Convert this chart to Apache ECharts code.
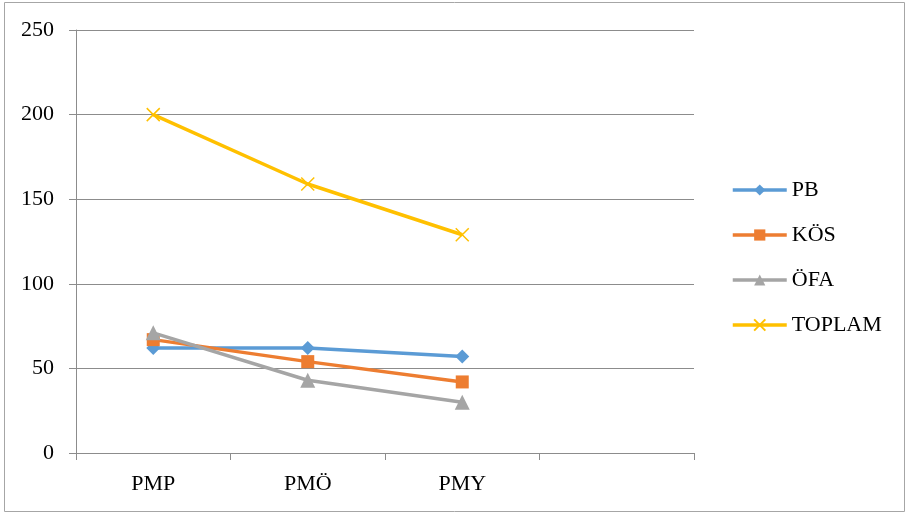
<!DOCTYPE html>
<html><head><meta charset="utf-8">
<script src="https://cdn.jsdelivr.net/npm/echarts@6/dist/echarts.min.js"></script>
<style>html,body{margin:0;padding:0;background:#fff}#c{width:908px;height:514px}</style>
</head><body><div id="c"></div>
<script>
const categories = ['PMP', 'PMÖ', 'PMY', ''];
const seriesNames = ['PB', 'KÖS', 'ÖFA', 'TOPLAM'];
const pb = [62, 62, 57];
const kos = [67, 54, 42];
const ofa = [71, 43, 30];
const toplam = [200, 159, 129];
const yTicks = [0, 50, 100, 150, 200, 250];

const font = '"Liberation Serif", "DejaVu Serif", serif';
const colors = ['#5B9BD5', '#ED7D31', '#A5A5A5', '#FFC000'];
const symbols = ['diamond', 'rect', 'triangle', 'path://M0,0L10,10M10,0L0,10'];
const sizes = [14, 13, 15, 13];
const data = [pb, kos, ofa, toplam];

const chart = echarts.init(document.getElementById('c'), null, {renderer: 'canvas'});
chart.setOption({
  animation: false,
  backgroundColor: '#fff',
  graphic: [{type: 'rect', shape: {x: 4.5, y: 2.5, width: 900, height: 509}, style: {fill: 'none', stroke: '#a6a6a6', lineWidth: 1}, silent: true, z: -1}],
  grid: {left: 76, right: 214, top: 30, bottom: 61, containLabel: false},
  legend: {
    orient: 'vertical', left: 726, top: 174, itemGap: 23, itemWidth: 54, itemHeight: 14,
    lineStyle: {width: 3.5},
    textStyle: {fontFamily: font, fontSize: 22, lineHeight: 22, color: '#000'},
    data: seriesNames
  },
  xAxis: {
    type: 'category', data: categories, boundaryGap: true,
    axisLine: {lineStyle: {color: '#8c8c8c', width: 1}},
    axisTick: {show: true, length: 7, lineStyle: {color: '#8c8c8c'}, alignWithLabel: false},
    axisLabel: {fontFamily: font, fontSize: 22, color: '#000', margin: 20},
    splitLine: {show: false}
  },
  yAxis: {
    type: 'value', min: yTicks[0], max: yTicks[yTicks.length - 1], interval: 50,
    axisLine: {show: true, lineStyle: {color: '#8c8c8c', width: 1}},
    axisTick: {show: true, length: 7, lineStyle: {color: '#8c8c8c'}},
    axisLabel: {fontFamily: font, fontSize: 22, color: '#000', margin: 22},
    splitLine: {show: true, lineStyle: {color: '#8c8c8c', width: 1}}
  },
  series: seriesNames.map((n, i) => ({
    name: n, type: 'line', data: data[i],
    symbol: symbols[i], symbolSize: sizes[i], showAllSymbol: true,
    lineStyle: {color: colors[i], width: 3.5},
    itemStyle: i === 3 ? {color: colors[i], borderColor: colors[i], borderWidth: 1.5} : {color: colors[i], borderWidth: 0},
    z: 2 + i
  }))
});
</script></body></html>
